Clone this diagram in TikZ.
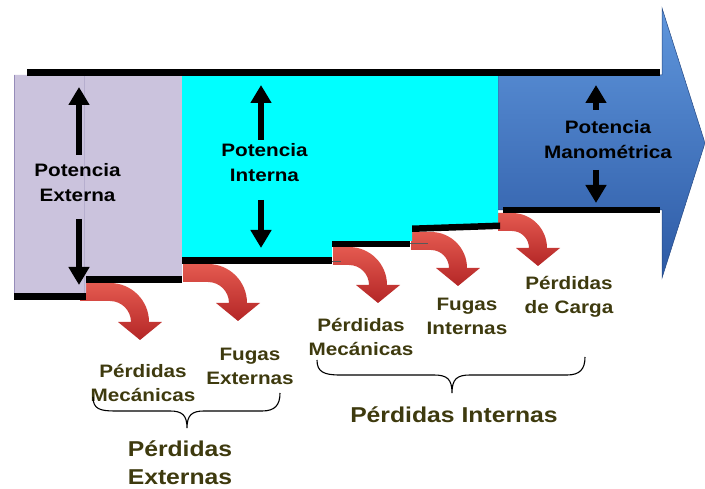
\documentclass[tikz,border=0pt]{standalone}
\usepackage{fontspec}
\newfontfamily\labfont{Liberation Sans}[FakeStretch=1.15]
\usetikzlibrary{arrows.meta}
\definecolor{lav}{RGB}{203,195,221}
\definecolor{lavedge}{RGB}{150,140,185}
\definecolor{cyanc}{RGB}{0,255,255}
\definecolor{bluetop}{RGB}{95,150,220}
\definecolor{bluebot}{RGB}{45,90,165}
\definecolor{redlt}{RGB}{228,90,80}
\definecolor{reddk}{RGB}{180,38,38}
\definecolor{olive}{RGB}{62,58,14}
\newcommand\redarr[5]{%
 \shade[redshade] (#1,{#2-9}) -- ({#3-#5},{#2-9})
   .. controls ({#3-#5+0.5523*(#5+9)},{#2-9}) and ({#3+9},{#2+#5-0.5523*(#5+9)}) .. ({#3+9},{#2+#5})
   -- ({#3+9},#4) -- ({#3+22},#4) -- (#3,{#4+18}) -- ({#3-22},#4) -- ({#3-9},#4) -- ({#3-9},{#2+#5})
   .. controls ({#3-9},{#2+#5-0.5523*(#5-9)}) and ({#3-#5+0.5523*(#5-9)},{#2+9}) .. ({#3-#5},{#2+9})
   -- (#1,{#2+9}) -- cycle;}
\begin{document}
\begin{tikzpicture}[x=1pt,y=-1pt,
  lbl/.style={font=\labfont\bfseries\fontsize{18}{24}\selectfont, align=center, text=olive, inner sep=0pt},
  biglbl/.style={font=\labfont\bfseries\fontsize{21.5}{28}\selectfont, align=center, text=olive, inner sep=0pt},
  potlbl/.style={font=\labfont\bfseries\fontsize{18}{25}\selectfont, align=center, text=black, inner sep=0pt},
  darr/.style={line width=6pt, -{Triangle[width=20pt,length=18pt]}},
  barfill/.style={fill=black},
  redshade/.style={top color=redlt, bottom color=reddk},
  brace/.style={line width=1.1pt, black}]
\useasboundingbox (0,0) rectangle (705,489);
\fill[white] (0,0) rectangle (705,489);
% red loss arrows (behind)
\redarr{80}{292}{140}{322}{30}
\redarr{183}{273}{238}{303}{30}
\redarr{333}{256}{378}{285}{29}
\redarr{411}{241}{458}{268}{27}
\redarr{498}{222}{538}{248}{26}
% blue arrow
\shade[top color=bluetop, bottom color=bluebot, draw=bluebot!80!black, line width=0.5pt]
  (498,75) -- (662,75) -- (662,8) -- (705,143) -- (662,278) -- (662,210) -- (498,210) -- cycle;
% lavender
\fill[lav] (14,75) -- (182,75) -- (182,277) -- (86,277) -- (86,293) -- (14,293) -- cycle;
\draw[lavedge, line width=1pt] (14.5,75) -- (14.5,293);
\draw[lavedge!70, line width=0.6pt] (84,76) -- (84,293);
% cyan
\fill[cyanc] (182,76) -- (498,76) -- (498,223) -- (412,226) -- (412,241) -- (332,241) -- (332,257) -- (182,257) -- cycle;
% black bars
\fill[barfill] (27,69) rectangle (660,76);
\fill[barfill] (86,276) rectangle (182,283);
\fill[barfill] (14,293) rectangle (86,300);
\fill[barfill] (182,257) rectangle (332,264);
\fill[barfill] (332,241) rectangle (410,247);
\fill[barfill] (412,225.5) -- (500,222.5) -- (500,229) -- (412,232) -- cycle;
\fill[barfill] (503,207) rectangle (660,213);
\draw[gray!70!black, line width=1pt] (332,262) -- (341,262);
\draw[gray!70!black, line width=1pt] (410,244) -- (428,244);
% power labels
\node[potlbl] (pe) at (77.5,183) {Potencia\\Externa};
\node[potlbl] (pi) at (264.5,162.5) {Potencia\\Interna};
\node[potlbl] (pm) at (608,140) {Potencia\\Manométrica};
\coordinate (peA) at (79,155); \coordinate (peT) at (79,87);
\coordinate (peB) at (79,219); \coordinate (peD) at (79,285);
\coordinate (piA) at (261,140); \coordinate (piT) at (261,85);
\coordinate (piB) at (261,200); \coordinate (piD) at (261,248);
\coordinate (pmA) at (596,110); \coordinate (pmT) at (596,85);
\coordinate (pmB) at (596,170); \coordinate (pmD) at (596,203);
\draw[darr] (peA) -- (peT);
\draw[darr] (peB) -- (peD);
\draw[darr] (piA) -- (piT);
\draw[darr] (piB) -- (piD);
\draw[darr] (pmA) -- (pmT);
\draw[darr] (pmB) -- (pmD);
% loss labels
\node[lbl] (pm1) at (143,383) {Pérdidas\\Mecánicas};
\node[lbl] (fe) at (250,366) {Fugas\\Externas};
\node[lbl] (pm2) at (361,337) {Pérdidas\\Mecánicas};
\node[lbl] (fi) at (467,316) {Fugas\\Internas};
\node[lbl] (pc) at (569,297) {Pérdidas\\de Carga};
\node[biglbl] (pex) at (180,463) {Pérdidas\\Externas};
\node[biglbl] (pin) at (454,415) {Pérdidas Internas};
% braces
\coordinate (b1l) at (93,397); \coordinate (b1r) at (280,393);
\coordinate (b2l) at (317,360); \coordinate (b2r) at (585,357);
\draw[brace] (b1l) .. controls (93,409) and (100,411) .. (115,411) -- (170,411)
  .. controls (182,411) and (187,415) .. (187,428)
  .. controls (187,415) and (192,411) .. (204,411) -- (262,411)
  .. controls (275,411) and (280,405) .. (b1r);
\draw[brace] (b2l) .. controls (317,372) and (324,375) .. (340,375) -- (434,375)
  .. controls (447,375) and (452,379) .. (452,393)
  .. controls (452,379) and (457,375) .. (470,375) -- (567,375)
  .. controls (580,375) and (585,369) .. (b2r);
\end{tikzpicture}
\end{document}
